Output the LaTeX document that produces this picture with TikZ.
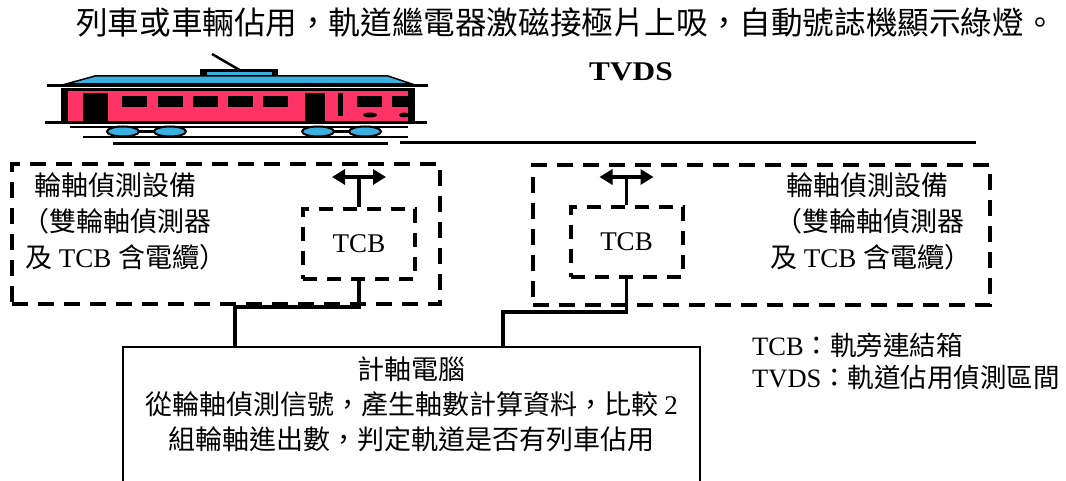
\documentclass[tikz,border=0pt]{standalone}
\usepackage{fontspec}
\setmainfont{Liberation Serif}
\newfontfamily\cjk{Noto Sans CJK TC}
\usetikzlibrary{arrows.meta}
\definecolor{trainpink}{RGB}{255,51,102}
\definecolor{trainblue}{RGB}{60,175,225}
\begin{document}
\begin{tikzpicture}[x=1pt,y=-1pt,
  outerbox/.style={draw, dash pattern=on 16pt off 10pt, line width=4.5pt, inner sep=0pt},
  tcbbox/.style={draw, dash pattern=on 14pt off 10pt, line width=4pt, inner sep=0pt,
    minimum width=112pt, minimum height=70pt, font=\fontsize{27}{30}\selectfont},
  conn/.style={line width=3.5pt},
  dblarrow/.style={line width=3.5pt, {Triangle[length=13pt,width=15pt]}-{Triangle[length=13pt,width=15pt]}},
  boxtext/.style={font=\fontsize{27}{36}\selectfont, inner sep=0pt},
  pcbox/.style={draw, line width=1.5pt, inner sep=0pt}
]
\useasboundingbox (0,0) rectangle (1066,481);
\clip (0,0) rectangle (1066,481);

% heading
\node (title) [font=\cjk\fontsize{31.6}{36}\selectfont, inner sep=0pt] at (566,22)
  {列車或車輛佔用，軌道繼電器激磁接極片上吸，自動號誌機顯示綠燈。};
\node (tvds) [font=\bfseries\fontsize{27}{30}\selectfont, inner sep=0pt] at (631,72)
  {\scalebox{1.16}[1]{TVDS}};

% ---- train ----
\draw[line width=2.5pt] (212,54) -- (243,72);
\fill[black] (200,69) rectangle (278,78);
\fill[trainblue] (207,72) rectangle (272,77);
\filldraw[fill=trainblue, draw=black, line width=1.5pt] (95,76) -- (388,76) -- (412,84) -- (66,84) -- cycle;
\draw[line width=2.5pt] (47,85.5) -- (428,85.5);
\fill[black] (61,88) rectangle (415,123);
\fill[trainpink] (68,91) rectangle (408,121);
\fill[black] (83,93) rectangle (108,121);
\foreach \wx in {122,158,193,228,263,357}
  \fill[black] (\wx,96) rectangle (\wx+25,107);
\fill[black] (392,96) rectangle (408,107);
\fill[black] (305,93) rectangle (325,121);
\fill[black] (338,93) rectangle (343,116);
\fill[black] (370,115) ellipse [x radius=7pt, y radius=2.5pt];
\fill[black] (404,115) ellipse [x radius=5pt, y radius=2.5pt];
\draw[line width=2.5pt] (45,122.5) -- (427,122.5);
\draw[line width=2pt] (70,127.5) -- (408,127.5);
\foreach \cx in {123,318} {
  \draw[line width=3pt] (\cx+14,131.5) -- (\cx+33,131.5);
  \filldraw[fill=trainblue, draw=black, line width=2pt] (\cx,131.5) ellipse [x radius=16pt, y radius=5pt];
  \filldraw[fill=trainblue, draw=black, line width=2pt] (\cx+47,131.5) ellipse [x radius=16pt, y radius=5pt];
}
\draw[line width=2pt] (83,137.5) -- (408,137.5);
\draw[line width=3pt] (113,144) -- (388,144);
% track
\draw[line width=3pt] (400,143) -- (976,143);

% ---- wheel detection equipment ----
\node (eqL) [outerbox, minimum width=428pt, minimum height=140pt] at (226,234) {};
\node (eqR) [outerbox, minimum width=457pt, minimum height=140pt] at (761.5,235) {};

\node (eqLtext) [boxtext, align=left, anchor=north west] at (22,172)
  {\hspace*{12pt}\cjk 輪軸偵測設備\\ \cjk （雙輪軸偵測器\\ \hspace*{3pt}{\cjk 及} TCB {\cjk 含電纜）}};
\node (eqRtext) [boxtext, align=left, anchor=north west] at (770,172)
  {\hspace*{16pt}\cjk 輪軸偵測設備\\ \hspace*{5pt}\cjk （雙輪軸偵測器\\ {\cjk 及} TCB {\cjk 含電纜）}};

\node (tcbL) [tcbbox] at (359,244) {TCB};
\node (tcbR) [tcbbox] at (626.5,242) {TCB};

% double arrows above the track-side boxes
\coordinate (aL) at (359,177);
\coordinate (aR) at (626.5,177);
\draw[dblarrow] ([xshift=-27pt]aL) -- ([xshift=27pt]aL);
\draw[dblarrow] ([xshift=-27pt]aR) -- ([xshift=27pt]aR);
\draw[conn] (tcbL.north) -- (aL);
\draw[conn] (tcbR.north) -- (aR);

% ---- axle counter computer ----
\node (pc) [pcbox, minimum width=577pt, minimum height=170pt, anchor=north] at (411.5,346) {};
\node (pctext) [boxtext, align=center, anchor=north, font=\cjk\fontsize{27}{35}\selectfont] at (411.5,357)
  {計軸電腦\\從輪軸偵測信號，產生軸數計算資料，比較 {\rmfamily 2}\\組輪軸進出數，判定軌道是否有列車佔用};

\coordinate (jL) at (235,307);
\coordinate (jR) at (503,312);
\draw[conn] (tcbL.south) |- (jL) -- (jL |- pc.north);
\draw[conn] (tcbR.south) |- (jR) -- (jR |- pc.north);

% ---- legend ----
\node (legend) [boxtext, align=left, anchor=north west, font=\fontsize{26.5}{32}\selectfont] at (752,333)
  {TCB{\cjk ：軌旁連結箱}\\TVDS{\cjk ：軌道佔用偵測區間}};
\end{tikzpicture}
\end{document}
